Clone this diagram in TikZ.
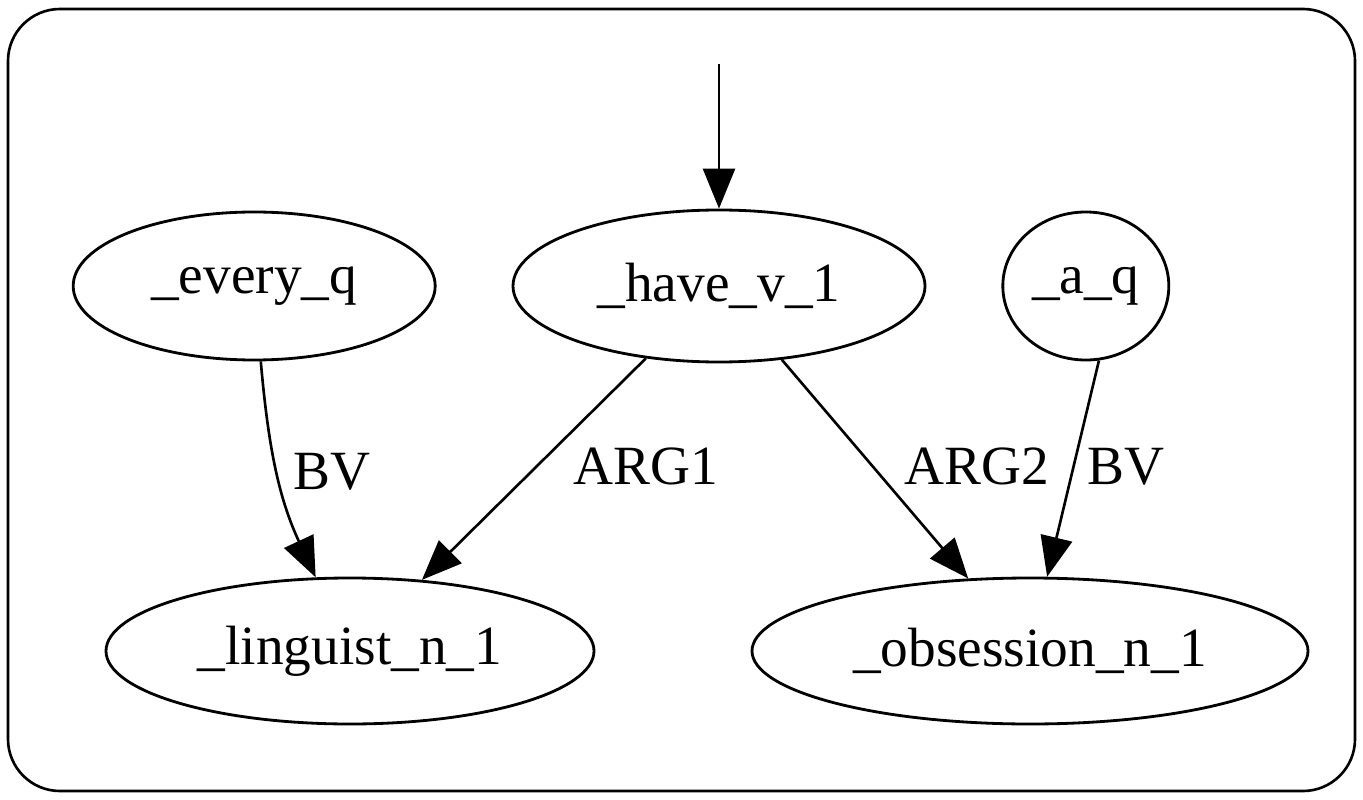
\documentclass[tikz,border=0pt]{standalone}
\usepackage{fontspec}
\setmainfont{Liberation Serif}
\usetikzlibrary{arrows.meta,positioning,shapes.geometric}

\begin{document}
\begin{tikzpicture}[
    font=\fontsize{31.5}{36}\selectfont,
    node distance=1.5cm,
    pred/.style={draw, ellipse, line width=1.6pt, inner sep=0pt, minimum height=2.96cm},
    lbl/.style={inner sep=0pt},
    line/.style={-{Triangle[length=0.8cm, width=0.64cm]}, line width=1.5pt}
]
\useasboundingbox (0,0) rectangle (27.26,-16);
\draw[line width=1.5pt, rounded corners=1.04cm] (0.16,-0.18) rectangle (27.10,-15.82);
\coordinate (top) at (14.38,-1.28);
\node[pred, minimum width=8.24cm, minimum height=3.04cm] (have) at (14.38,-5.72) {\_have\_v\_1};
\node[pred, minimum width=7.24cm, left=of have] (every) {\_every\_q};
\node[pred, minimum width=3.32cm, right=of have] (aq) {\_a\_q};
\node[pred, minimum width=9.76cm, minimum height=2.92cm] (linguist) at (7.0,-13.02) {\_linguist\_n\_1};
\node[pred, minimum width=11.12cm, minimum height=2.92cm] (obsession) at (20.6,-13.02) {\_obsession\_n\_1};
\draw[line] (top) -- (have);
\draw[line] (every) to[out=-85, in=115] node[lbl, right=0.3cm] {BV} (linguist);
\draw[line] (have) -- node[lbl, pos=0.49, right=0.72cm] {ARG1} (linguist);
\draw[line] (have) -- node[lbl, pos=0.49, right=0.6cm] {ARG2} (obsession);
\draw[line] (aq.-80) -- node[lbl, pos=0.49, right=0.26cm] {BV} (obsession.77);
\end{tikzpicture}
\end{document}
